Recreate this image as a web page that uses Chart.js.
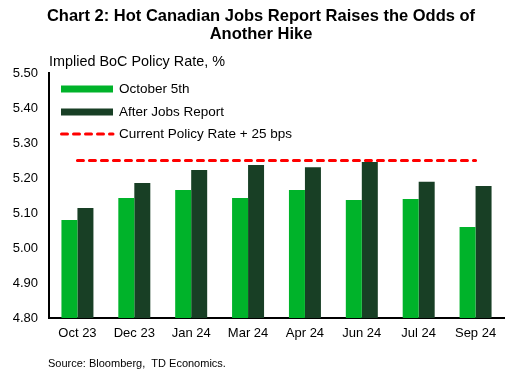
<!DOCTYPE html>
<html>
<head>
<meta charset="utf-8">
<script src="https://cdn.jsdelivr.net/npm/chart.js@4.4.0/dist/chart.umd.min.js"></script>
<style>
  body { margin: 0; background: #fff; }
  #wrap { width: 515px; height: 385px; }
</style>
</head>
<body>
<div id="wrap"><canvas id="barChart"></canvas></div>
<script>
var categories = ["Oct 23", "Dec 23", "Jan 24", "Mar 24", "Apr 24", "Jun 24", "Jul 24", "Sep 24"];
var october5th = [5.080, 5.143, 5.166, 5.143, 5.166, 5.137, 5.140, 5.060];
var afterJobsReport = [5.114, 5.186, 5.223, 5.237, 5.231, 5.246, 5.189, 5.177];
var policyPlus25 = [5.25, 5.25, 5.25, 5.25, 5.25, 5.25, 5.25, 5.25];
var yTicks = [4.80, 4.90, 5.00, 5.10, 5.20, 5.30, 5.40, 5.50];

var FONT = "'Liberation Sans', Arial, sans-serif";
Chart.defaults.font.family = FONT;
Chart.defaults.color = "#000";

// title, legend, axis caption and source, drawn on the canvas
var extras = {
	id: "extras",
	afterDraw: function(chart) {
		var c = chart.ctx;
		var area = chart.chartArea;
		c.save();
		c.fillStyle = "#000";
		c.textBaseline = "middle";

		c.textAlign = "center";
		c.font = "bold 16.5px " + FONT;
		c.fillText("Chart 2: Hot Canadian Jobs Report Raises the Odds of", 261, 16);
		c.fillText("Another Hike", 261, 34);

		c.textAlign = "left";
		c.font = "14.4px " + FONT;
		c.fillText("Implied BoC Policy Rate, %", area.left, 62);

		var rows = [89, 112, 134];
		c.font = "13.5px " + FONT;
		chart.data.datasets.forEach(function(ds, i) {
			var y = rows[i];
			c.save();
			c.beginPath();
			if (ds.type === "line") {
				c.strokeStyle = ds.borderColor;
				c.lineWidth = 3;
				c.lineCap = "round";
				c.setLineDash([6, 6]);
				c.moveTo(61.5, y);
				c.lineTo(113, y);
			} else {
				c.strokeStyle = ds.backgroundColor;
				c.lineWidth = 7;
				c.moveTo(61, y);
				c.lineTo(113, y);
			}
			c.stroke();
			c.restore();
			c.fillText(ds.label, 119, y);
		});

		c.font = "11px " + FONT;
		c.fillText("Source: Bloomberg,  TD Economics.", 48, 364);
		c.restore();
	}
};

var ctx = document.getElementById("barChart").getContext("2d");
var myChart = new Chart(ctx, {
	type: "bar",
	data: {
		labels: categories,
		datasets: [{
			label: "October 5th",
			data: october5th,
			backgroundColor: "#00b32a",
			categoryPercentage: 0.5625,
			barPercentage: 1.0,
			order: 1
		}, {
			label: "After Jobs Report",
			data: afterJobsReport,
			backgroundColor: "#183f25",
			categoryPercentage: 0.5625,
			barPercentage: 1.0,
			order: 1
		}, {
			type: "line",
			label: "Current Policy Rate + 25 bps",
			data: policyPlus25,
			borderColor: "#ff0000",
			borderWidth: 3,
			borderDash: [6, 6],
			borderCapStyle: "round",
			pointRadius: 0,
			fill: false,
			order: 0
		}]
	},
	options: {
		responsive: true,
		maintainAspectRatio: false,
		animation: false,
		layout: {
			padding: { left: 6, right: 11, top: 73, bottom: 0 }
		},
		plugins: {
			legend: { display: false },
			tooltip: { enabled: false },
			title: { display: false }
		},
		scales: {
			x: {
				grid: { display: false, drawTicks: false },
				border: { display: true, color: "#000", width: 2 },
				ticks: { font: { size: 13 }, padding: 8, maxRotation: 0 },
				afterFit: function(scale) { scale.height = 67; }
			},
			y: {
				min: 4.8,
				max: 5.5,
				grid: { display: false, drawTicks: false },
				border: { display: true, color: "#000", width: 2 },
				afterBuildTicks: function(scale) {
					scale.ticks = yTicks.map(function(v) { return { value: v }; });
				},
				ticks: {
					font: { size: 13 },
					padding: 11,
					callback: function(v) { return Number(v).toFixed(2); }
				},
				afterFit: function(scale) { scale.width = 43; }
			}
		}
	},
	plugins: [extras]
});
</script>
</body>
</html>
